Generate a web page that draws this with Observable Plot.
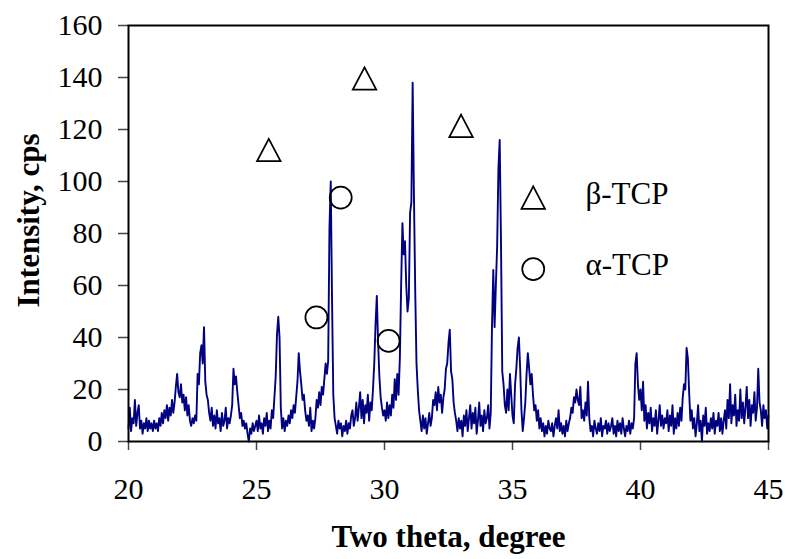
<!DOCTYPE html>
<html>
<head>
<meta charset="utf-8">
<script src="https://cdn.jsdelivr.net/npm/d3@7"></script>
<script src="https://cdn.jsdelivr.net/npm/@observablehq/plot@0.6"></script>
<style>
  html, body { margin: 0; padding: 0; background: #fff; }
  #chart svg { display: block; }
</style>
</head>
<body>
<div id="chart"></div>
<script>
// Scan grid (degrees two-theta)
const thetaStart = 20;
const thetaStep = 0.05;

const int20to25 = [
  5,13,4,9,7,16,6,11,14,5,8,3,7,5,9,4,8,5,7,4,
  8,5,7,4,9,6,11,7,12,9,14,8,13,10,16,11,15,21,26,19,
  17,22,15,18,12,17,10,14,8,6,9,7,10,8,26,22,34,37,30,44,
  23,18,16,11,8,13,6,10,5,12,7,9,4,11,6,8,13,5,9,7,
  10,14,28,22,25,19,14,9,11,6,8,5,7,3,0,5,3,7,4,6
];
const int25to30 = [
  8,4,10,5,7,3,9,6,11,4,8,5,12,9,17,25,41,48,40,13,
  5,9,4,8,6,10,7,12,9,14,11,17,23,34,27,22,16,18,12,8,
  10,6,13,4,8,5,9,16,13,19,14,21,18,24,30,26,31,82,100,55,
  18,9,6,3,8,5,7,2,6,4,8,3,7,5,10,12,6,9,15,8,
  13,19,9,16,7,14,11,18,8,15,12,20,30,45,56,38,25,17,13,10
];
const int30to35 = [
  12,8,15,9,14,10,18,13,24,16,26,18,32,60,84,72,77,60,50,55,
  88,92,138,95,58,30,20,12,8,4,10,5,9,3,7,11,6,9,16,14,
  19,12,21,15,18,11,17,20,28,30,38,43,27,24,15,11,8,4,9,5,
  8,2,10,6,12,4,9,14,5,11,7,13,3,8,15,6,10,4,12,7,
  9,14,5,11,45,66,44,60,75,105,116,77,27,22,14,11,20,12,26,18
];
const int35to40 = [
  10,7,22,28,36,40,28,12,4,9,15,26,34,28,22,26,18,12,14,8,
  12,5,9,4,7,2,6,3,8,5,4,7,2,6,9,5,12,4,7,3,
  6,2,8,4,7,9,13,11,17,15,20,16,14,21,9,12,8,15,10,23,
  9,4,6,2,8,5,3,7,4,9,2,6,5,8,3,7,4,6,9,3,
  6,2,8,4,7,3,9,5,2,6,4,8,3,7,5,9,30,34,22,16
];
const int40to45 = [
  20,12,23,8,14,5,11,7,13,4,9,6,12,3,8,14,6,10,5,9,
  7,12,4,10,6,14,3,9,5,11,6,13,8,17,22,20,36,32,19,8,
  12,5,9,2,7,14,4,8,0,10,6,13,3,7,4,9,5,11,3,8,
  6,11,4,9,3,8,12,5,16,9,22,7,14,10,18,6,12,8,20,9,
  15,7,13,21,9,16,6,14,11,19,8,13,28,15,12,6,14,9,12,5,
  10
];

// Phase markers
const betaTheta = [25.48, 29.22, 32.99];
const betaI = [112.1, 139.6, 121.4];
const alphaTheta = [28.29, 27.34, 30.16];
const alphaI = [93.8, 47.7, 38.7];

// Legend
const legendLabels = ["β-TCP", "α-TCP"];
const legendMarkerTheta = 35.81;
const legendMarkerI = [93.8, 66.3];
const legendTextTheta = 37.85;
const legendTextI = [95, 67.8];

// Axes
const xTicks = [20, 25, 30, 35, 40, 45];
const yTicks = [0, 20, 40, 60, 80, 100, 120, 140, 160];
const xTitle = "Two theta, degree";
const yTitle = "Intensity, cps";

const intensity = [...int20to25, ...int25to30, ...int30to35, ...int35to40, ...int40to45];
const pattern = intensity.map((v, i) => ({theta: +(thetaStart + i * thetaStep).toFixed(2), I: v}));
const beta = betaTheta.map((t, i) => ({theta: t, I: betaI[i]}));
const alpha = alphaTheta.map((t, i) => ({theta: t, I: alphaI[i]}));

const triangleSym = {
  draw(context, size) {
    const r = Math.sqrt(size / Math.PI);
    context.moveTo(0, -0.95 * r);
    context.lineTo(r, 0.95 * r);
    context.lineTo(-r, 0.95 * r);
    context.closePath();
  }
};

const chart = Plot.plot({
  width: 788,
  height: 559,
  marginLeft: 128,
  marginRight: 20,
  marginTop: 25,
  marginBottom: 118,
  style: {fontFamily: "'Liberation Serif', 'Times New Roman', serif", fontSize: "30px", color: "#000", background: "#fff"},
  x: {domain: [20, 45], ticks: xTicks, label: null},
  y: {domain: [0, 160], ticks: yTicks, label: null},
  marks: [
    Plot.axisX({ticks: xTicks, tickSize: 9, tickPadding: 27, stroke: "#444", strokeWidth: 1.5, label: null, fontSize: 30}),
    Plot.axisY({ticks: yTicks, tickSize: 10, tickPadding: 16, stroke: "#444", strokeWidth: 1.5, label: null, fontSize: 30}),
    Plot.line(pattern, {x: "theta", y: "I", stroke: "#000080", strokeWidth: 1.9}),
    Plot.frame({stroke: "#000", strokeWidth: 2}),
    Plot.dot(beta, {x: "theta", y: "I", symbol: triangleSym, r: 11.75, stroke: "#000", strokeWidth: 1.75, fill: "none"}),
    Plot.dot(alpha, {x: "theta", y: "I", symbol: "circle", r: 11, stroke: "#000", strokeWidth: 1.75, fill: "none"}),
    Plot.dot([legendMarkerI[0]], {x: () => legendMarkerTheta, y: d => d, symbol: triangleSym, r: 11.75, stroke: "#000", strokeWidth: 1.75, fill: "none"}),
    Plot.dot([legendMarkerI[1]], {x: () => legendMarkerTheta, y: d => d, symbol: "circle", r: 11, stroke: "#000", strokeWidth: 1.75, fill: "none"}),
    Plot.text(legendLabels, {x: () => legendTextTheta, y: (d, i) => legendTextI[i], text: d => d, textAnchor: "start", lineAnchor: "middle", fontSize: 31, fill: "#000"}),
    Plot.text([xTitle], {frameAnchor: "bottom", dy: 105, textAnchor: "middle", lineAnchor: "bottom", text: d => d, fontSize: 31, fontWeight: "bold", fill: "#000"}),
    Plot.text([yTitle], {frameAnchor: "left", dx: -99, dy: -13, rotate: -90, textAnchor: "middle", lineAnchor: "middle", text: d => d, fontSize: 31, fontWeight: "bold", fill: "#000"})
  ]
});
document.getElementById("chart").appendChild(chart);
</script>
</body>
</html>
